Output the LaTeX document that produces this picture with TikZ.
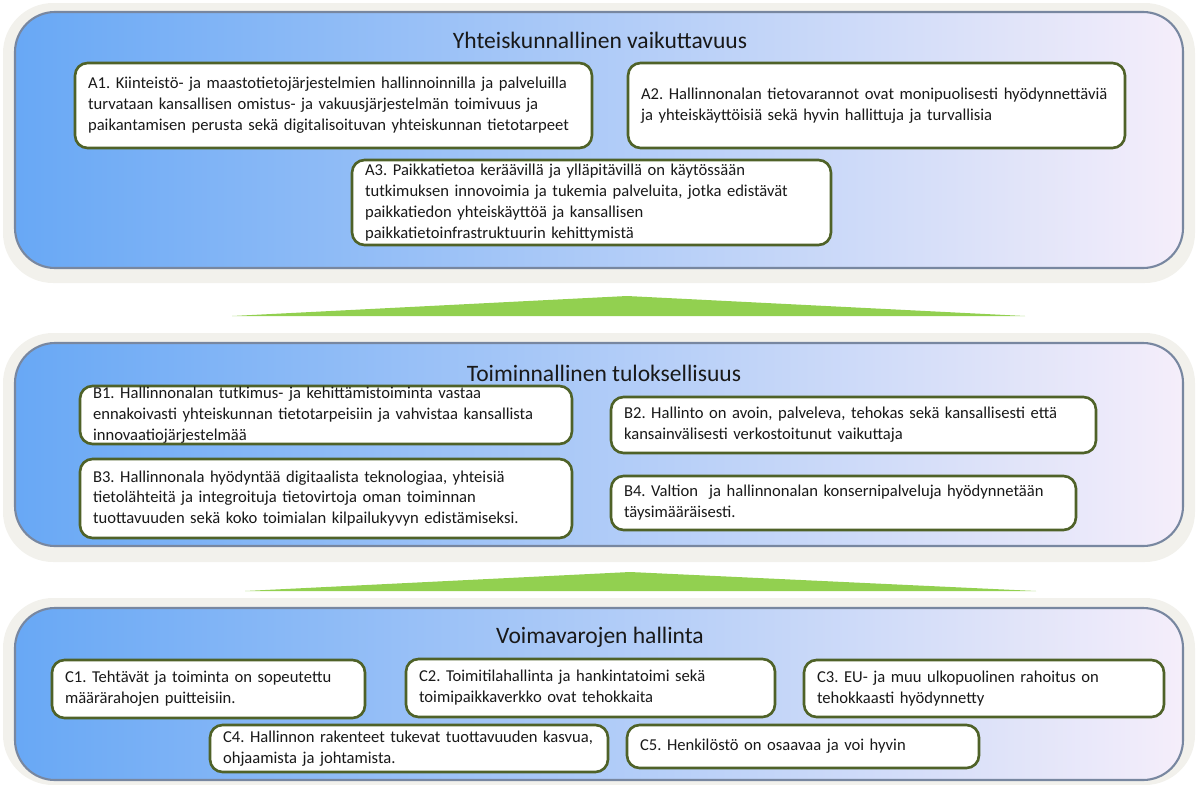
\documentclass[tikz,border=0pt]{standalone}
\usepackage{fontspec}
\setmainfont{Carlito}
\usepackage{tikz}
\usetikzlibrary{positioning}
\usepackage{xcolor}
\hyphenpenalty=10000
\exhyphenpenalty=10000
\frenchspacing

\definecolor{boxgreen}{RGB}{79,98,40}
\definecolor{arrowgreen}{RGB}{146,208,80}
\definecolor{panelblue}{RGB}{104,168,245}
\definecolor{panelmid}{RGB}{160,206,252}
\definecolor{panellav}{RGB}{245,238,250}
\definecolor{panelrim}{RGB}{120,135,160}
\definecolor{glowgray}{RGB}{242,241,236}

\begin{document}
\begin{tikzpicture}[x=0.02cm,y=-0.02cm,
  panel/.style={left color=panelblue, middle color=panelmid, right color=panellav,
    draw=panelrim, line width=1.2pt, rounded corners=0.8cm},
  glow/.style={fill=glowgray, rounded corners=1cm},
  paneltitle/.style={font=\fontsize{13.4}{16}\selectfont, text=black!90},
  goal/.style={draw=boxgreen, line width=1.5pt, fill=white, rounded corners=0.25cm,
    align=left, inner xsep=0.26cm, inner ysep=0pt, text=black!90,
    font=\fontsize{9.45}{11.9}\selectfont}]

\useasboundingbox (0,0) rectangle (1198,785);

% panels
{
\fill[glow] (3,3) rectangle (1195,283);
\fill[glow] (3,333) rectangle (1195,562);
\fill[glow] (3,598) rectangle (1195,785);

\draw[panel] (15,12) rectangle (1183,268);
\draw[panel] (15,343) rectangle (1183,546);
\draw[panel] (15,608) rectangle (1183,780);
}

% arrows
{
\fill[arrowgreen] (232,316) -- (627,296) -- (1025,316) -- cycle;
\fill[arrowgreen] (245,591) -- (630,572) -- (1036,591) -- cycle;
}

% titles
{
\node[paneltitle] (ta) at (600,40) {Yhteiskunnallinen vaikuttavuus};
\node[paneltitle] (tb) at (604,373) {Toiminnallinen tuloksellisuus};
\node[paneltitle] (tc) at (600,637) {Voimavarojen hallinta};
}

% nodes
{
\node[goal, text width=9.82cm, minimum width=10.34cm, minimum height=1.7cm] (a1) at (333.5,105.5)
  {A1. Kiinteistö- ja maastotietojärjestelmien hallinnoinnilla ja palveluilla\\
   turvataan kansallisen omistus- ja vakuusjärjestelmän toimivuus ja\\
   paikantamisen perusta sekä digitalisoituvan yhteiskunnan tietotarpeet};
\node[goal, text width=9.42cm, minimum width=9.94cm, minimum height=1.7cm] (a2) at (876.5,105.5)
  {A2. Hallinnonalan tietovarannot ovat monipuolisesti hyödynnettäviä\\
   ja yhteiskäyttöisiä sekä hyvin hallittuja ja turvallisia};
\node[goal, text width=9.06cm, minimum width=9.58cm, minimum height=1.7cm] (a3) at (591.5,202.5)
  {A3. Paikkatietoa keräävillä ja ylläpitävillä on käytössään\\
   tutkimuksen innovoimia ja tukemia palveluita, jotka edistävät\\
   paikkatiedon yhteiskäyttöä ja kansallisen\\
   paikkatietoinfrastruktuurin kehittymistä};

\node[goal, text width=9.32cm, minimum width=9.84cm, minimum height=1.16cm] (b1) at (326,415)
  {B1. Hallinnonalan tutkimus- ja kehittämistoiminta vastaa\\
   ennakoivasti yhteiskunnan tietotarpeisiin ja vahvistaa kansallista\\
   innovaatiojärjestelmää};
\node[goal, text width=9.18cm, minimum width=9.7cm, minimum height=1.12cm] (b2) at (853.5,425)
  {B2. Hallinto on avoin, palveleva, tehokas sekä kansallisesti että\\
   kansainvälisesti verkostoitunut vaikuttaja};
\node[goal, text width=9.32cm, minimum width=9.84cm, minimum height=1.58cm] (b3) at (326,498.5)
  {B3. Hallinnonala hyödyntää digitaalista teknologiaa, yhteisiä\\
   tietolähteitä ja integroituja tietovirtoja oman toiminnan\\
   tuottavuuden sekä koko toimialan kilpailukyvyn edistämiseksi.};
\node[goal, text width=8.78cm, minimum width=9.3cm, minimum height=1.08cm] (b4) at (843.5,503)
  {B4. Valtion \ ja hallinnonalan konsernipalveluja hyödynnetään\\
   täysimääräisesti.};

\node[goal, text width=5.74cm, minimum width=6.26cm, minimum height=1.16cm] (c1) at (208.5,689)
  {C1. Tehtävät ja toiminta on sopeutettu\\
   määrärahojen puitteisiin.};
\node[goal, text width=6.86cm, minimum width=7.38cm, minimum height=1.16cm] (c2) at (590.5,688)
  {C2. Toimitilahallinta ja hankintatoimi sekä\\
   toimipaikkaverkko ovat tehokkaita};
\node[goal, text width=6.68cm, minimum width=7.2cm, minimum height=1.14cm] (c3) at (984,688.5)
  {C3. EU- ja muu ulkopuolinen rahoitus on\\
   tehokkaasti hyödynnetty};
\node[goal, text width=7.44cm, minimum width=7.96cm, minimum height=0.94cm] (c4) at (409,748.5)
  {C4. Hallinnon rakenteet tukevat tuottavuuden kasvua,\\
   ohjaamista ja johtamista.};
\node[goal, text width=6.52cm, minimum width=7.04cm, minimum height=0.86cm] (c5) at (803,746.5)
  {C5. Henkilöstö on osaavaa ja voi hyvin};
}

\end{tikzpicture}
\end{document}
